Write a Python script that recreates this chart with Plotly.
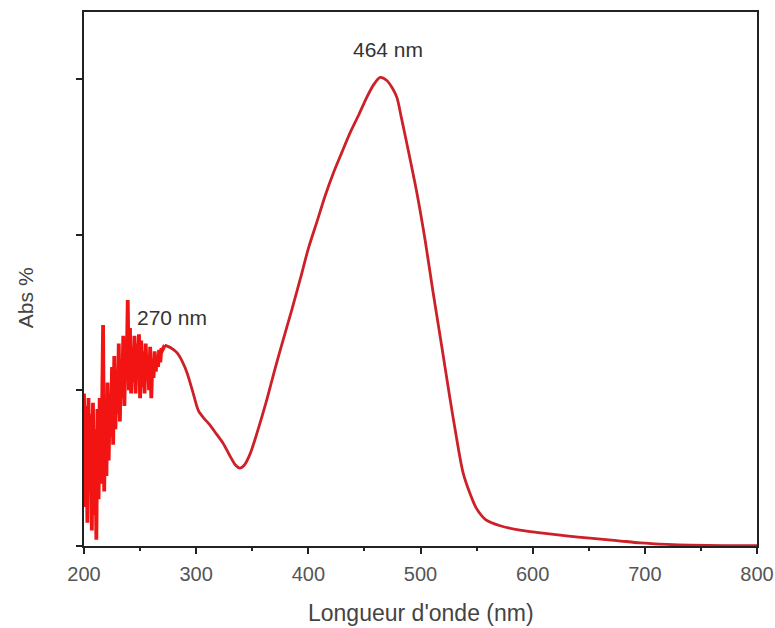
import plotly.graph_objects as go

# Noisy UV region, 1 nm steps from 200 to 272 nm
noisy_wl = list(range(200, 273))
noisy_abs = [
    0.98, 0.25, 0.90, 0.15, 0.95, 0.35, 0.85, 0.10, 0.92, 0.20,
    0.75, 0.04, 0.88, 0.30, 0.95, 0.40, 0.80, 1.42, 0.35, 0.95,
    0.45, 1.05, 0.55, 0.98, 0.70, 1.15, 0.65, 1.22, 0.75, 1.08,
    0.85, 1.30, 0.80, 1.20, 0.95, 1.35, 0.90, 1.25, 1.10, 1.58,
    1.00, 1.40, 0.98, 1.28, 1.05, 1.35, 0.98, 1.30, 1.12, 1.36,
    0.95, 1.32, 1.02, 1.25, 0.98, 1.30, 1.10, 1.22, 1.00, 1.28,
    0.95, 1.20, 1.08, 1.25, 1.12, 1.22, 1.15, 1.26, 1.18, 1.27,
    1.26, 1.28, 1.29,
]

# Smooth visible-range absorption
smooth_wl = [272, 278, 283, 288, 292, 297, 302, 307, 312, 318, 324, 330,
             335, 339, 343, 348, 354, 363, 370, 377, 385, 393, 400, 408,
             415, 422, 430, 437, 445, 452, 458, 464, 470, 475, 479, 483,
             490, 497, 504, 511, 519, 526, 532, 538, 544, 550, 558, 571,
             590, 607, 630, 651, 675, 696, 720, 740, 770, 800]
smooth_abs = [1.29, 1.27, 1.24, 1.18, 1.11, 0.99, 0.87, 0.82, 0.78, 0.72,
              0.66, 0.58, 0.52, 0.50, 0.52, 0.59, 0.72, 0.94, 1.13, 1.31,
              1.51, 1.72, 1.91, 2.09, 2.25, 2.39, 2.53, 2.65, 2.77, 2.88,
              2.96, 3.01, 2.99, 2.94, 2.88, 2.75, 2.51, 2.26, 1.97, 1.64,
              1.28, 0.96, 0.70, 0.47, 0.34, 0.24, 0.17, 0.13, 0.10, 0.085,
              0.065, 0.05, 0.035, 0.02, 0.01, 0.005, 0.003, 0.003]

peak_labels = ["464 nm", "270 nm"]

fig = go.Figure()
fig.add_trace(go.Scatter(
    x=noisy_wl, y=noisy_abs, mode="lines",
    line=dict(color="#f21313", width=3.8),
    hoverinfo="x+y", showlegend=False,
))
fig.add_trace(go.Scatter(
    x=smooth_wl, y=smooth_abs, mode="lines",
    line=dict(color="#cc2128", width=2.8, shape="spline", smoothing=0.8),
    hoverinfo="x+y", showlegend=False,
))

fig.add_annotation(x=471, y=3.10, text=peak_labels[0], showarrow=False,
                   yanchor="bottom", font=dict(size=21, color="#333333"))
fig.add_annotation(x=245.5, y=1.47, text=peak_labels[1], showarrow=False,
                   xanchor="left", yanchor="middle",
                   font=dict(size=21, color="#333333"))

# Axis titles
fig.add_annotation(xref="paper", yref="paper", x=0.5007, y=-0.1255,
                   text="Longueur d'onde (nm)", showarrow=False,
                   xanchor="center", yanchor="middle",
                   font=dict(size=23, color="#444444"))
fig.add_annotation(xref="paper", yref="paper", x=-0.0877, y=0.466,
                   text="Abs %", showarrow=False, textangle=-90,
                   xanchor="center", yanchor="middle",
                   font=dict(size=21, color="#444444"))

fig.update_layout(
    width=775, height=628,
    margin=dict(l=84, r=18, t=12, b=82),
    paper_bgcolor="white", plot_bgcolor="white",
    font=dict(family="Liberation Sans, Arial, sans-serif", color="#444444"),
    xaxis=dict(
        range=[200, 800], tickvals=[200, 300, 400, 500, 600, 700, 800],
        automargin=False,
        ticks="outside", ticklen=6, tickwidth=1.5, tickcolor="#222222",
        minor=dict(tickvals=[250, 350, 450, 550, 650, 750], ticks="outside",
                   ticklen=3, tickwidth=1.5, tickcolor="#222222"),
        showline=True, linecolor="#222222", linewidth=1.8, mirror=True,
        showgrid=False, zeroline=False,
        tickfont=dict(size=20, color="#555555"),
        ticklabelstandoff=3,
    ),
    yaxis=dict(
        range=[0, 3.43], tickvals=[0, 1, 2, 3], showticklabels=False,
        automargin=False,
        ticks="outside", ticklen=6, tickwidth=1.5, tickcolor="#222222",
        showline=True, linecolor="#222222", linewidth=1.8, mirror=True,
        showgrid=False, zeroline=False,
    ),
)

fig.write_html("out.html")
